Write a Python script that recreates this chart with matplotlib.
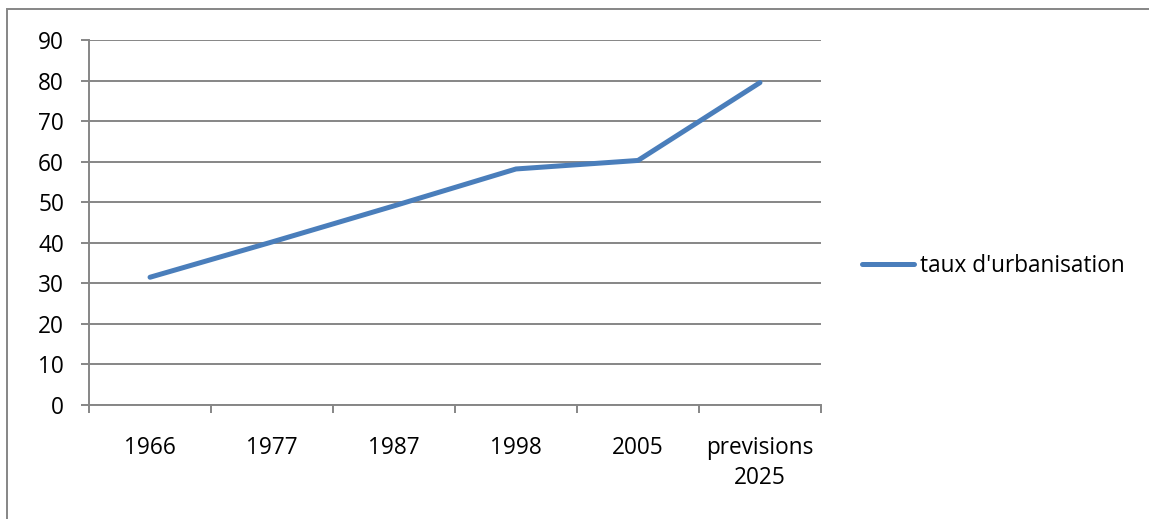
import matplotlib.pyplot as plt
from matplotlib.patches import Rectangle
from matplotlib.ticker import FixedLocator

years = ["1966", "1977", "1987", "1998", "2005", "previsions\n2025"]
taux = [31.5, 40.2, 49.1, 58.2, 60.3, 79.5]

plt.rcParams['font.family'] = ['Open Sans', 'DejaVu Sans']
fs = 16.3

fig = plt.figure(figsize=(11.49, 5.19), dpi=100)
ax = fig.add_axes([0.0775, 0.2197, 0.637, 0.7032])

grid_col = "#868686"
line_col = "#4A7EBB"

pos = [i + 0.5 for i in range(len(years))]
ax.plot(pos, taux, color=line_col, linewidth=3.6, solid_capstyle="round",
        solid_joinstyle="round", label="taux d'urbanisation", zorder=3)

ax.set_xlim(0, len(years))
ax.set_ylim(0, 90)
ax.set_yticks(range(0, 91, 10))
ax.yaxis.grid(True, color=grid_col, linewidth=1.4)
ax.set_axisbelow(True)

# category boundaries get tick marks, labels sit in the middle
ax.xaxis.set_major_locator(FixedLocator(range(len(years) + 1)))
ax.xaxis.set_minor_locator(FixedLocator(pos))
ax.set_xticklabels([])
ax.set_xticklabels(years, minor=True, ha="center", va="top", linespacing=1.38)
ax.tick_params(axis="x", which="major", length=6, width=1.4, color=grid_col, direction="out")
ax.tick_params(axis="x", which="minor", length=0, pad=22, labelsize=fs)
ax.tick_params(axis="y", length=6, width=1.4, color=grid_col, pad=12, labelsize=fs)

for side in ["top", "right"]:
    ax.spines[side].set_visible(False)
for side in ["left", "bottom"]:
    ax.spines[side].set_color(grid_col)
    ax.spines[side].set_linewidth(1.4)

leg = ax.legend(loc="center left", bbox_to_anchor=(862 / 1149, 1 - 266 / 519), bbox_transform=fig.transFigure,
                frameon=False, fontsize=fs, handlelength=2.3, handletextpad=0.25,
                borderaxespad=0, borderpad=0)

# chart area border
fig.patches.append(Rectangle((7 / 1149, -0.1), 1.2, 1 - 9 / 519 + 0.1, transform=fig.transFigure,
                             fill=False, edgecolor=grid_col, linewidth=1.4))

fig.savefig("out.png", dpi=100)
